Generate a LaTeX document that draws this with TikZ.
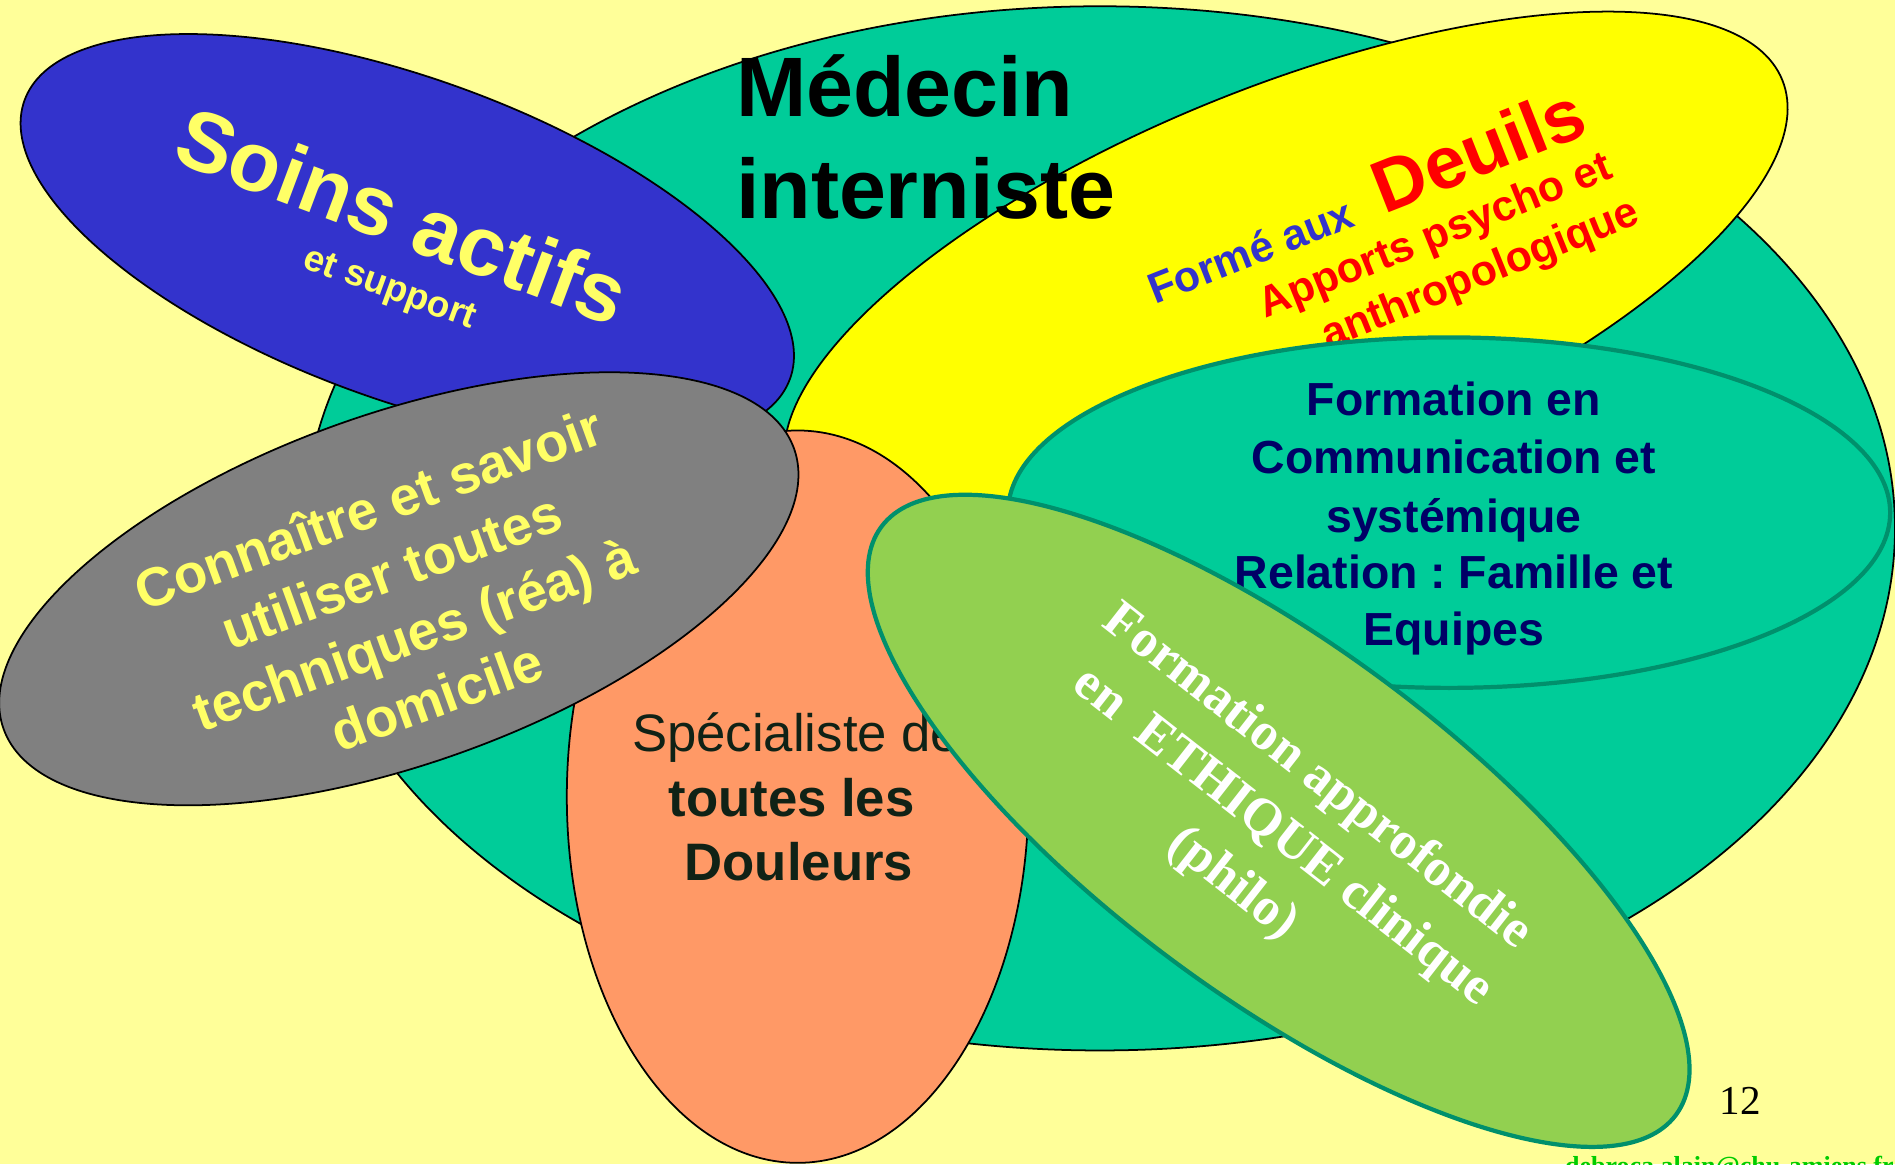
\documentclass[tikz,border=0pt]{standalone}
\usepackage{fontspec}
\setmainfont{Liberation Sans}
\newfontfamily\tms{Liberation Serif}
\frenchspacing
\definecolor{bg}{HTML}{FFFF99}
\definecolor{tealmain}{HTML}{00CC99}
\definecolor{blueell}{HTML}{3333CC}
\definecolor{yelell}{HTML}{FFFF00}
\definecolor{greyell}{HTML}{808080}
\definecolor{orangeell}{HTML}{FF9966}
\definecolor{greenell}{HTML}{92D050}
\definecolor{edgeteal}{HTML}{00906C}
\definecolor{lightyel}{HTML}{FFFF66}
\definecolor{navytext}{HTML}{000066}
\definecolor{formeblue}{HTML}{3333CC}
\definecolor{orangetext}{HTML}{102216}
\definecolor{mailgreen}{HTML}{00CC00}
\newcommand{\fsz}[2]{\fontsize{#1}{#2}\selectfont}
\tikzset{
  blackedge/.style={draw=black, line width=0.5pt},
  tealedge/.style={draw=edgeteal, line width=1.2pt},
  txt/.style={inner sep=0pt, outer sep=0pt},
}
\begin{document}
\begin{tikzpicture}[x=0.0120855cm, y=0.0120855cm]
\useasboundingbox (0,0) rectangle (1568,963.2);
\clip (0,0) rectangle (1568,963.2);
\fill[bg] (0,0) rectangle (1568,963.2);
% main teal ellipse
\path[blackedge, fill=tealmain] (910,526) ellipse [x radius=658, y radius=432];
% yellow ellipse
\path[blackedge, fill=yelell, rotate around={22:(1064,731)}] (1064,731) ellipse [x radius=443, y radius=160];
\node[txt, anchor=base west, rotate=21.5, font=\bfseries] (forme) at (956,711)
  {\color{formeblue}\fsz{12.2pt}{14pt}Formé aux\hspace{8.5pt}\color{red}\fsz{21pt}{24pt}Deuils};
\node[txt, anchor=base west, rotate=22, text=red, font=\bfseries\fsz{12.2pt}{14pt}] (apports) at (1047,700) {Apports psycho et};
\node[txt, anchor=base west, rotate=22, text=red, font=\bfseries\fsz{12.2pt}{14pt}] (anthro) at (1099,674) {anthropologique};
% title
\node[txt, anchor=base west, font=\bfseries\fsz{24pt}{28pt}] (medecin) at (609,867) {Médecin};
\node[txt, anchor=base west, font=\bfseries\fsz{24pt}{28pt}] (interniste) at (609,782) {interniste};
% blue ellipse
\path[blackedge, fill=blueell, rotate around={-20:(337,765)}] (337,765) ellipse [x radius=337, y radius=133];
\node[txt, rotate=-20.5, text=lightyel, font=\bfseries\fsz{24pt}{28pt}] (soins) at (333,785) {Soins actifs};
\node[txt, rotate=-20, text=lightyel, font=\bfseries\fsz{10.5pt}{12pt}] (support) at (322,723) {et support};
% orange ellipse
\path[blackedge, fill=orangeell] (660,304) ellipse [x radius=191, y radius=303];
\node[txt, anchor=base west, text=orangetext, font=\fsz{15pt}{18pt}] (specialiste) at (523,341) {Spécialiste de};
\node[txt, anchor=base, text=orangetext, font=\bfseries\fsz{15pt}{18pt}] (toutes) at (655,288) {toutes les};
\node[txt, anchor=base, text=orangetext, font=\bfseries\fsz{15pt}{18pt}] (douleurs) at (661,234.6) {Douleurs};
% grey ellipse
\path[blackedge, fill=greyell, rotate around={19.5:(330,476)}] (330,476) ellipse [x radius=347, y radius=145];
\node[txt, align=center, rotate=20, text=lightyel, font=\bfseries\fsz{15.5pt}{19pt}] (connaitre) at (333,465)
  {Connaître et savoir\\utiliser toutes\\techniques (réa) à\\domicile};
% communication ellipse
\path[tealedge, fill=tealmain] (1199,539) ellipse [x radius=365, y radius=145];
\node[txt, anchor=base, text=navytext, font=\bfseries\fsz{13.2pt}{16pt}] (c1) at (1203,619) {Formation en};
\node[txt, anchor=base, text=navytext, font=\bfseries\fsz{13.2pt}{16pt}] (c2) at (1203,571.3) {Communication et};
\node[txt, anchor=base, text=navytext, font=\bfseries\fsz{13.2pt}{16pt}] (c3) at (1203,522.3) {systémique};
\node[txt, anchor=base, text=navytext, font=\bfseries\fsz{13.2pt}{16pt}] (c4) at (1203,476.3) {Relation : Famille et};
\node[txt, anchor=base, text=navytext, font=\bfseries\fsz{13.2pt}{16pt}] (c5) at (1203,429) {Equipes};
% green ellipse
\path[tealedge, fill=greenell, rotate around={-36.5:(1058,284)}] (1058,284) ellipse [x radius=409, y radius=145];
\node[txt, anchor=base, rotate=-38, text=white, font=\tms\bfseries\fsz{15pt}{18pt}] (e1) at (1083,311.3) {Formation approfondie};
\node[txt, anchor=base, rotate=-38, text=white, font=\tms\bfseries\fsz{15pt}{18pt}] (e2) at (1054.4,261.5) {en\ \ ETHIQUE clinique};
\node[txt, anchor=base, rotate=-38, text=white, font=\tms\bfseries\fsz{15pt}{18pt}] (e3) at (1013,222.8) {(philo)};
% page number and mail
\node[txt, anchor=base west, font=\tms\fsz{11.7pt}{14pt}] (pagenum) at (1423,41) {12};
\node[txt, anchor=base west, text=mailgreen, font=\tms\bfseries\fsz{7.4pt}{9pt}] (mail) at (1295,-9) {debroca.alain@chu-amiens.fr};
\end{tikzpicture}
\end{document}
